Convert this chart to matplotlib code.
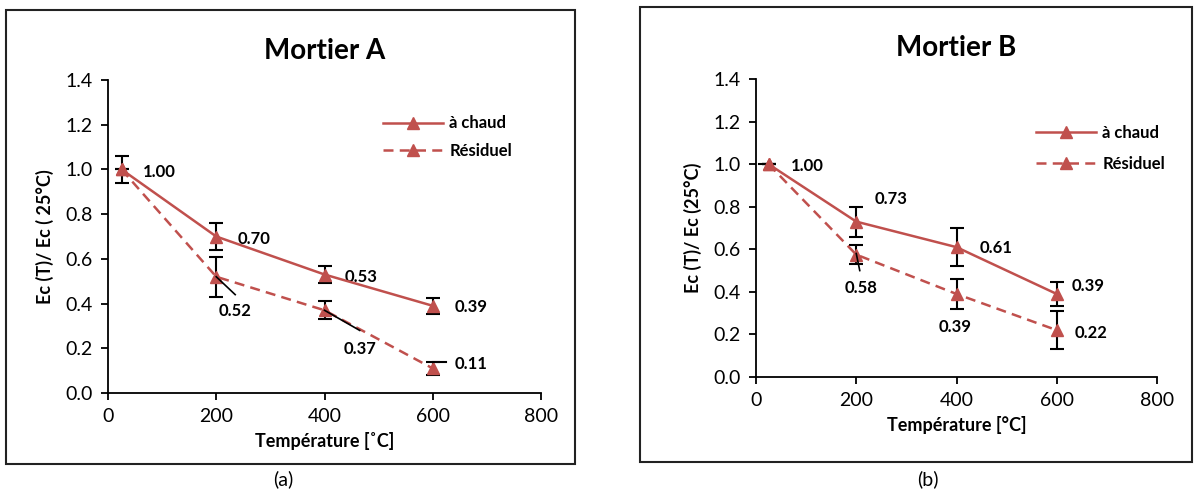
import matplotlib
matplotlib.use("Agg")
import matplotlib.pyplot as plt
from matplotlib.patches import Rectangle

plt.rcParams['font.family'] = ['Lato', 'DejaVu Sans']

temps = [25, 200, 400, 600]

# Mortier A
a_chaud = [1.00, 0.70, 0.53, 0.39]
a_chaud_err = [0.06, 0.06, 0.04, 0.035]
a_resid = [1.00, 0.52, 0.37, 0.11]
a_resid_err = [0.0, 0.09, 0.04, 0.03]
a_chaud_labels = ["1.00", "0.70", "0.53", "0.39"]
a_resid_labels = ["0.52", "0.37", "0.11"]

# Mortier B
b_chaud = [1.00, 0.73, 0.61, 0.39]
b_chaud_err = [0.0, 0.07, 0.09, 0.055]
b_resid = [1.00, 0.575, 0.39, 0.22]
b_resid_err = [0.0, 0.045, 0.07, 0.09]
b_chaud_labels = ["1.00", "0.73", "0.61", "0.39"]
b_resid_labels = ["0.58", "0.39", "0.22"]

xticks = [0, 200, 400, 600, 800]
yticks = [0.0, 0.2, 0.4, 0.6, 0.8, 1.0, 1.2, 1.4]

RED = '#C0504D'

fig = plt.figure(figsize=(12, 4.93), dpi=100)

# panel borders
fig.patches.append(Rectangle((6/1200, 1-464/493), 569/1200, 454/493, transform=fig.transFigure,
                             fill=False, edgecolor='#222222', linewidth=1.5))
fig.patches.append(Rectangle((640/1200, 1-462/493), 552/1200, 455/493, transform=fig.transFigure,
                             fill=False, edgecolor='#222222', linewidth=1.5))

axA = fig.add_axes([108/1200, 1-393/493, (541-108)/1200, (393-80)/493])
axB = fig.add_axes([756/1200, 1-377/493, (1157-756)/1200, (377-79)/493])


def style(ax, ylabel, xlabel, title, title_y):
    ax.set_xlim(0, 800)
    ax.set_ylim(0, 1.4)
    ax.set_xticks(xticks)
    ax.set_yticks(yticks)
    ax.set_yticklabels([f"{v:.1f}" for v in yticks])
    ax.spines['top'].set_visible(False)
    ax.spines['right'].set_visible(False)
    for s in ['left', 'bottom']:
        ax.spines[s].set_linewidth(1.3)
    ax.tick_params(direction='out', length=5, width=1.3, labelsize=14, pad=6)
    ax.set_ylabel(ylabel, fontsize=13, fontweight='bold', labelpad=8)
    ax.set_xlabel(xlabel, fontsize=13, fontweight='bold', labelpad=5)
    ax.set_title(title, fontsize=20, fontweight='bold', y=title_y)


def draw(ax, chaud, chaud_err, resid, resid_err):
    l1 = ax.errorbar(temps, chaud, yerr=chaud_err, color=RED, ecolor='black', elinewidth=1.5,
                     capsize=5, capthick=1.5, marker='^', markersize=9, linewidth=1.8,
                     linestyle='-', zorder=3)
    l2 = ax.errorbar(temps, resid, yerr=resid_err, color=RED, ecolor='black', elinewidth=1.5,
                     capsize=5, capthick=1.5, marker='^', markersize=9, linewidth=1.8,
                     linestyle='--', dashes=(4, 2.5), zorder=3)
    return l1.lines[0], l2.lines[0]


lab_kw = dict(fontsize=12, fontweight='bold', va='center', ha='left')
leg_kw = dict(loc='upper left', frameon=False, handlelength=3.6,
              prop={'weight': 'bold', 'size': 12}, labelspacing=0.7, handletextpad=0.4)

# ---- Mortier A
h1, h2 = draw(axA, a_chaud, a_chaud_err, a_resid, a_resid_err)
style(axA, "Ec (T)/ Ec ( 25°C)", "Température [˚C]", "Mortier A", 1.04)
a_chaud_pos = [(65, 0.99), (240, 0.69), (438, 0.52), (641, 0.385)]
for (x, y), t in zip(a_chaud_pos, a_chaud_labels):
    axA.text(x, y, t, **lab_kw)
a_resid_pos = [(205, 0.367), (436, 0.197), (641, 0.13)]
for (x, y), t in zip(a_resid_pos, a_resid_labels):
    axA.text(x, y, t, **lab_kw)
# leader lines
axA.plot([200, 235], [0.52, 0.44], color='black', lw=1.2, zorder=4)
axA.plot([400, 465], [0.37, 0.28], color='black', lw=1.2, zorder=4)
axA.plot([600, 625], [0.14, 0.14], color='black', lw=1.5, zorder=4)
axA.legend([h1, h2], ['à chaud', 'Résiduel'], bbox_to_anchor=(0.6, 0.935), **leg_kw)

# ---- Mortier B
h1, h2 = draw(axB, b_chaud, b_chaud_err, b_resid, b_resid_err)
style(axB, "Ec (T)/ Ec (25°C)", "Température [°C]", "Mortier B", 1.05)
b_chaud_pos = [(70, 0.99), (237, 0.836), (446, 0.606), (629, 0.427)]
for (x, y), t in zip(b_chaud_pos, b_chaud_labels):
    axB.text(x, y, t, **lab_kw)
b_resid_pos = [(177, 0.42), (364, 0.235), (635, 0.207)]
for (x, y), t in zip(b_resid_pos, b_resid_labels):
    axB.text(x, y, t, **lab_kw)
axB.plot([200, 207], [0.58, 0.50], color='black', lw=1.2, zorder=4)
axB.plot([5, 25], [1.0, 1.0], color='black', lw=1.5, zorder=2)
axB.legend([h1, h2], ['à chaud', 'Résiduel'], bbox_to_anchor=(0.66, 0.895),
           **{**leg_kw, 'labelspacing': 0.9})

fig.text(283/1200, 1-479/493, "(a)", fontsize=14, ha='center', va='center')
fig.text(928/1200, 1-479/493, "(b)", fontsize=14, ha='center', va='center')

fig.savefig("out.png", dpi=100)
